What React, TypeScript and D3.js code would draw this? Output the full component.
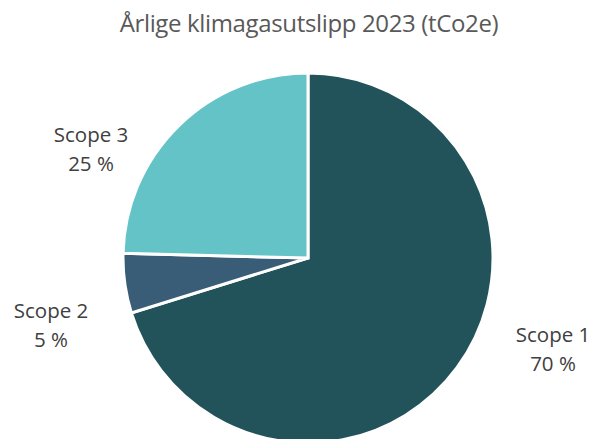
import React from 'react';
import * as d3 from 'd3';

const categories = ['Scope 1', 'Scope 2', 'Scope 3'];
const shares = [70.2, 5.2, 24.6];
const shareLabels = ['70 %', '5 %', '25 %'];
const colors = ['#22535A', '#3A5D77', '#63C3C7'];

// label anchor positions relative to pie centre (Excel "best fit" style)
const labelOffsets: [number, number][] = [
  [245, 84],
  [-257, 60],
  [-217, -116],
];

export default function App() {
  const width = 604;
  const height = 439;
  const cx = 308;
  const cy = 258;
  const radius = 185;

  const pie = d3.pie<number>().sort(null).value(d => d);
  const arcs = pie(shares);
  const arc = d3.arc<d3.PieArcDatum<number>>().innerRadius(0).outerRadius(radius);

  return (
    <svg width={width} height={height} style={{ position: 'absolute', left: 0, top: 0, background: '#fff' }}>
      <text x={309} y={32} textAnchor="middle" fill="#595959" fontSize={24} fontFamily="'Open Sans', sans-serif" style={{ letterSpacing: '-0.35px' }}>
        Årlige klimagasutslipp 2023 (tCo2e)
      </text>
      <g transform={`translate(${cx},${cy})`}>
        {arcs.map((a, i) => (
          <path key={categories[i]} d={arc(a) || ''} fill={colors[i]} stroke="#fff" strokeWidth={3} strokeLinejoin="miter" />
        ))}
        {arcs.map((a, i) => (
          <text key={'l' + i} x={labelOffsets[i][0]} y={labelOffsets[i][1]} textAnchor="middle" fill="#404040" fontSize={20.5} fontFamily="'Open Sans', sans-serif">
            <tspan x={labelOffsets[i][0]} dy={0}>{categories[i]}</tspan>
            <tspan x={labelOffsets[i][0]} dy={29}>{shareLabels[i]}</tspan>
          </text>
        ))}
      </g>
    </svg>
  );
}
